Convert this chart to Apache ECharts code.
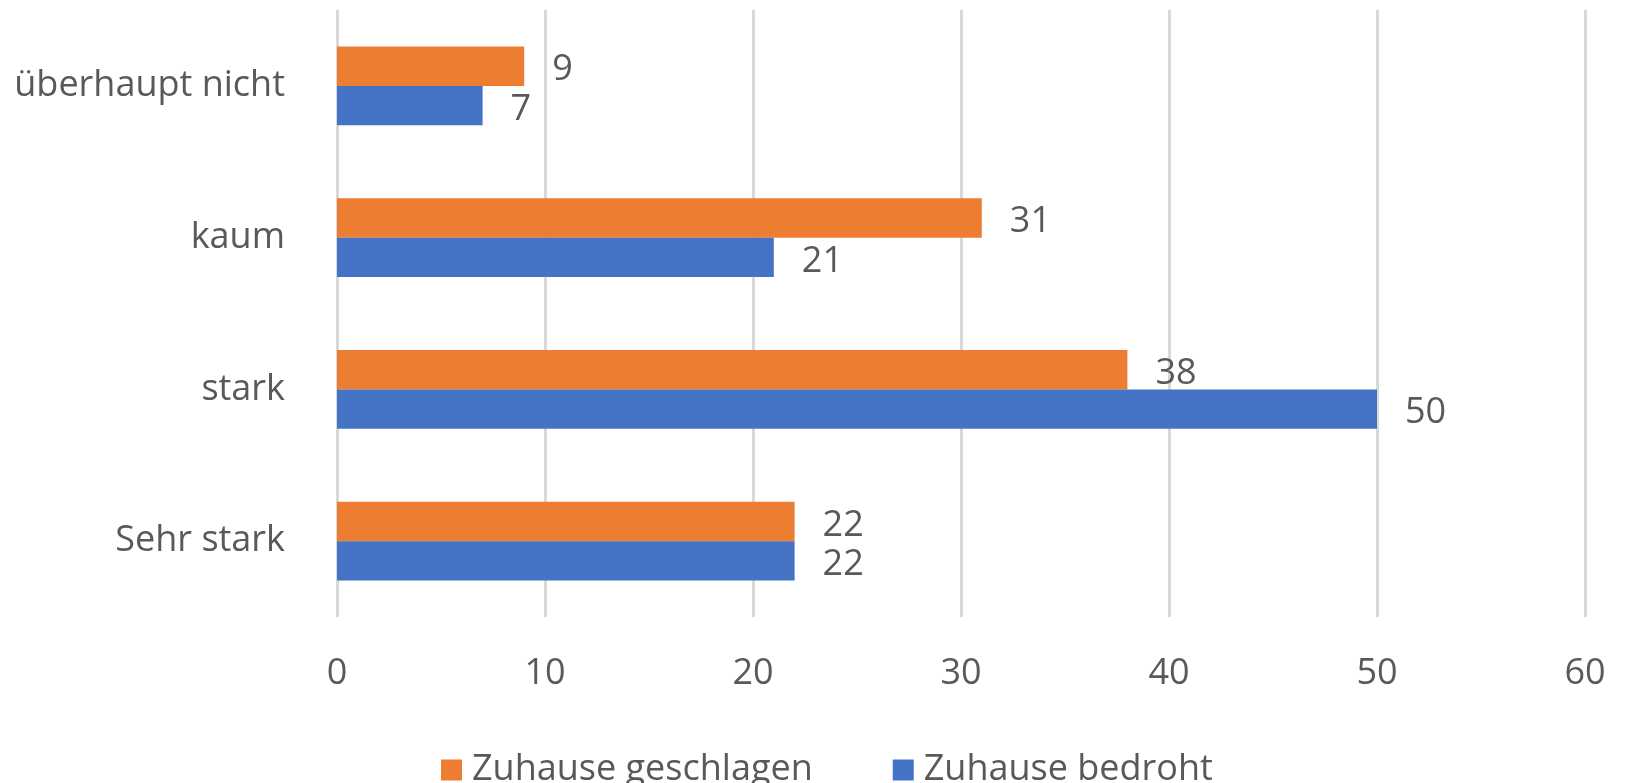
<!DOCTYPE html>
<html>
<head>
<meta charset="utf-8">
<script src="https://cdn.jsdelivr.net/npm/echarts@6/dist/echarts.min.js"></script>
<style>
  html, body { margin: 0; padding: 0; background: #fff; }
  #chart { width: 1627px; height: 783px; }
</style>
</head>
<body>
<div id="chart"></div>
<script>
// Kategorien von unten nach oben
var categories = ['Sehr stark', 'stark', 'kaum', 'überhaupt nicht'];
var geschlagen = [22, 38, 31, 9];
var bedroht = [22, 50, 21, 7];
var xTicks = [0, 10, 20, 30, 40, 50, 60];

var textColor = '#595959';
var fontFamily = '"Open Sans", sans-serif';

var myChart = echarts.init(document.getElementById('chart'));

// Datenbeschriftung rechts neben dem Balken
function valueLabel() {
    return {
        show: true,
        position: 'right',
        distance: 28,
        offset: [0, 4],
        color: textColor,
        fontSize: 36,
        fontFamily: fontFamily
    };
}

var option = {
    animation: false,
    textStyle: { fontFamily: fontFamily },
    legend: {
        data: ['Zuhause geschlagen', 'Zuhause bedroht'],
        left: 436,
        top: 747,
        icon: 'rect',
        itemWidth: 21,
        itemHeight: 21,
        itemGap: 80,
        textStyle: { color: textColor, fontSize: 36, fontFamily: fontFamily, padding: [0, 0, 0, 5] }
    },
    grid: { left: 337, right: 42, top: 10, bottom: 166 },
    xAxis: {
        type: 'value',
        min: xTicks[0],
        max: xTicks[xTicks.length - 1],
        interval: 10,
        axisLine: { show: false },
        axisTick: { show: false },
        axisLabel: { color: textColor, fontSize: 36, margin: 39, fontFamily: fontFamily },
        splitLine: { show: true, lineStyle: { color: '#d9d9d9', width: 3 } }
    },
    yAxis: {
        type: 'category',
        data: categories,
        axisLine: { show: false },
        axisTick: { show: false },
        axisLabel: { color: textColor, fontSize: 36, margin: 52, padding: [6, 0, 0, 0], fontFamily: fontFamily }
    },
    series: [
        {
            name: 'Zuhause geschlagen',
            type: 'bar',
            data: geschlagen,
            barGap: '0%',
            barCategoryGap: '48%',
            itemStyle: { color: '#ED7D31' },
            label: valueLabel()
        },
        {
            name: 'Zuhause bedroht',
            type: 'bar',
            data: bedroht,
            barGap: '0%',
            barCategoryGap: '48%',
            itemStyle: { color: '#4472C4' },
            label: valueLabel()
        }
    ]
};

myChart.setOption(option);

window.addEventListener('resize', function () {
    myChart.resize();
});
</script>
</body>
</html>
